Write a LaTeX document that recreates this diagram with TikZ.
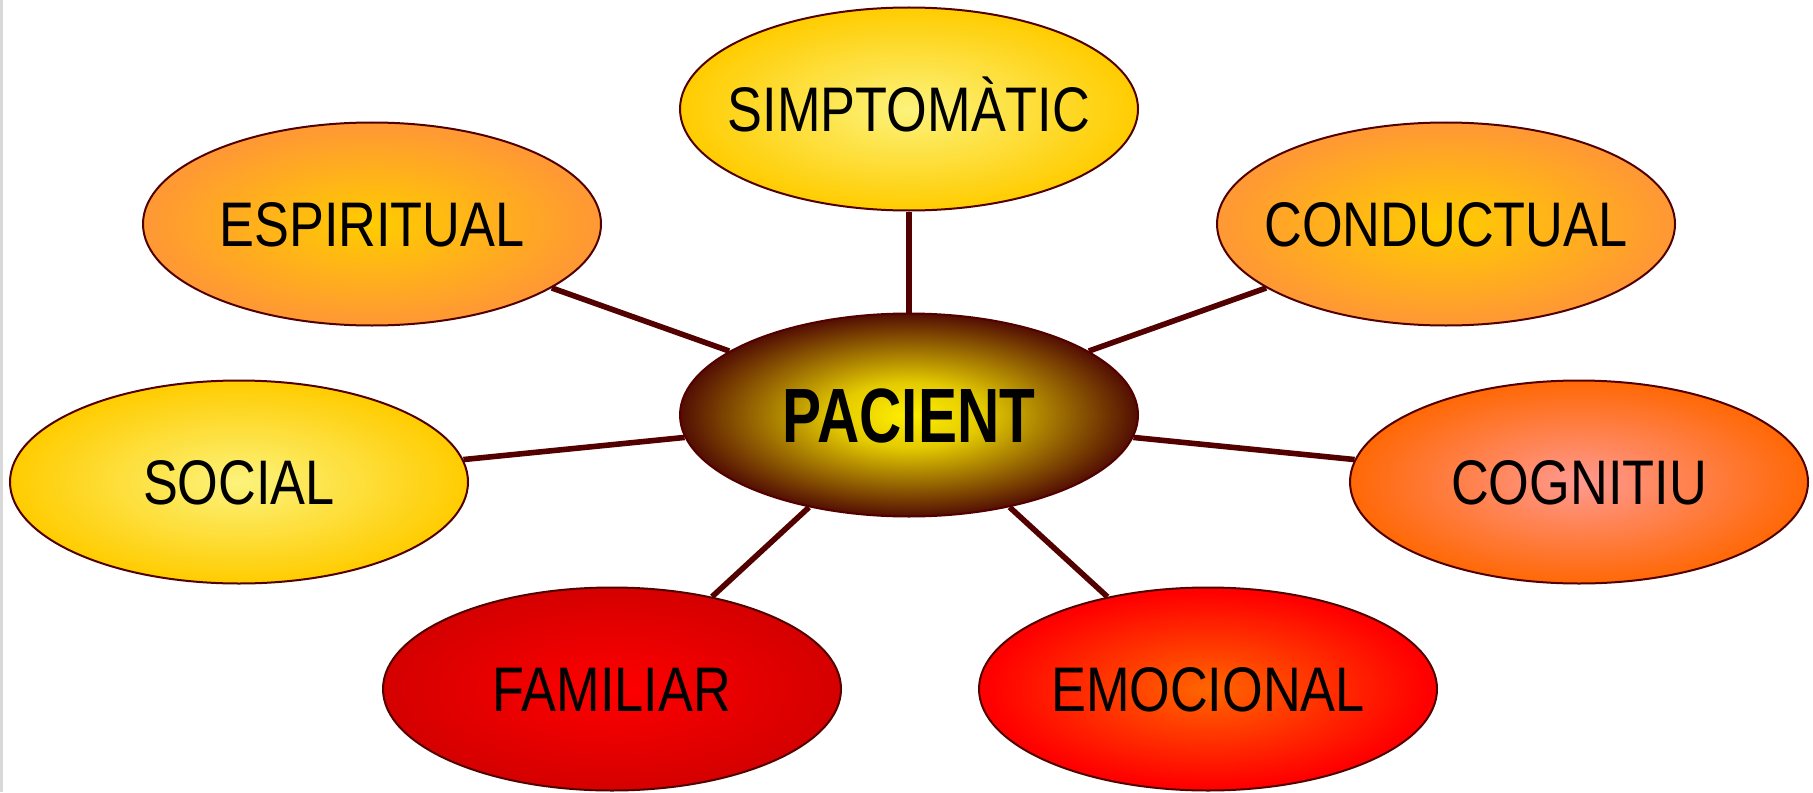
\documentclass[tikz,border=0pt]{standalone}
\usepackage{fontspec}
\usetikzlibrary{shapes.geometric}
\newfontfamily\lblfont[FakeStretch=0.83]{Liberation Sans}
\newfontfamily\pacfont[FakeStretch=0.76]{Liberation Sans}
\definecolor{edgecol}{HTML}{520000}
\definecolor{yIn}{HTML}{FCF37C}\definecolor{yOut}{HTML}{FFCC00}
\definecolor{oIn}{HTML}{FFCC00}\definecolor{oOut}{HTML}{FF9933}
\definecolor{cIn}{HTML}{FF9990}\definecolor{cOut}{HTML}{FF6600}
\definecolor{fIn}{HTML}{FF0000}\definecolor{fOut}{HTML}{D40000}
\definecolor{eIn}{HTML}{FF6600}\definecolor{eOut}{HTML}{FF0000}
\definecolor{pIn}{HTML}{FFEE00}\definecolor{pOut}{HTML}{4A0303}
\pgfdeclareradialshading{shY}{\pgfpoint{0bp}{0bp}}{color(0bp)=(yIn); color(25bp)=(yOut); color(50bp)=(yOut)}
\pgfdeclareradialshading{shO}{\pgfpoint{0bp}{0bp}}{color(0bp)=(oIn); color(24bp)=(oOut); color(50bp)=(oOut)}
\pgfdeclareradialshading{shC}{\pgfpoint{0bp}{0bp}}{color(0bp)=(cIn); color(26bp)=(cOut); color(50bp)=(cOut)}
\pgfdeclareradialshading{shF}{\pgfpoint{0bp}{0bp}}{color(0bp)=(fIn); color(25bp)=(fOut); color(50bp)=(fOut)}
\pgfdeclareradialshading{shE}{\pgfpoint{0bp}{0bp}}{color(0bp)=(eIn); color(24bp)=(eOut); color(50bp)=(eOut)}
\pgfdeclareradialshading{shP}{\pgfpoint{0bp}{0bp}}{color(0bp)=(pIn); color(8bp)=(pIn!85!pOut); color(26bp)=(pOut); color(50bp)=(pOut)}
\tikzset{
  bubble/.style={ellipse, draw=edgecol, line width=1pt, inner sep=0pt,
    minimum width=229pt, minimum height=101.5pt,
    font=\lblfont\fontsize{31.5}{36}\selectfont, text height=22.5pt, text depth=0pt},
  centre/.style={bubble, font=\pacfont\bfseries\fontsize{38.5}{44}\selectfont, text height=27.6pt},
  spoke/.style={draw=edgecol, line width=2.8pt}
}
\newcommand{\lbltext}[1]{\makebox[0pt]{#1}}
\begin{document}
\begin{tikzpicture}[x=0.5pt,y=-0.5pt]
\useasboundingbox (0,0) rectangle (1813,792);
\fill[white] (0,0) rectangle (1813,792);
\fill[black!15] (0,0) rectangle (3,792);
\node[centre, shading=shP] (pac) at (909,415) {\lbltext{PACIENT}};
\node[bubble, shading=shY] (simp) at (909,109) {\lbltext{SIMPTOMÀTIC}};
\node[bubble, shading=shO] (esp) at (372,224) {\lbltext{ESPIRITUAL}};
\node[bubble, shading=shO] (cond) at (1446,224) {\lbltext{CONDUCTUAL}};
\node[bubble, shading=shY] (soc) at (239,482) {\lbltext{SOCIAL}};
\node[bubble, shading=shC] (cog) at (1579,482) {\lbltext{COGNITIU}};
\node[bubble, shading=shF] (fam) at (612,689) {\lbltext{FAMILIAR}};
\node[bubble, shading=shE] (emo) at (1208,689) {\lbltext{EMOCIONAL}};
\draw[spoke] (pac) -- (simp);
\draw[spoke] (pac) -- (esp);
\draw[spoke] (pac) -- (cond);
\draw[spoke] (pac) -- (soc);
\draw[spoke] (pac) -- (cog);
\draw[spoke] (pac) -- (fam);
\draw[spoke] (pac) -- (emo);
\end{tikzpicture}
\end{document}
